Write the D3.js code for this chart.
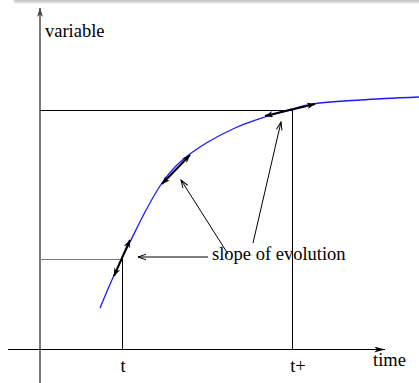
<!DOCTYPE html>
<html>
<head>
<meta charset="utf-8">
<script src="https://cdn.jsdelivr.net/npm/d3@7"></script>
<style>
  body { margin: 0; background: #fff; }
  text { font-family: "Liberation Serif", "Times New Roman", serif; fill: #000; }
</style>
</head>
<body>
<script>
const W = 419, H = 383;

// curve: [time, variable]
const curve = [
  [60, 41], [75, 76], [82, 91], [90, 107], [105, 137], [122, 166],
  [135, 182], [150, 195], [168, 207], [195, 221], [225, 232],
  [252, 240], [273, 245], [320, 249], [379, 252]
];
const instants = [82, 252];          // t, t+
const instantValues = [90, 239];
const instantLabels = ["t", "t+"];
// tangent (slope) arrows, double headed
const tangents = [
  [[74, 73], [90, 109]],
  [[122, 165], [150, 194]],
  [[225, 233], [275, 245]]
];
// pointer arrows from the label: [tail, tip]
const pointers = [
  [[168, 92], [98, 92]],
  [[188, 95], [141, 169]],
  [[213, 106], [241, 227]]
];

const x = d3.scaleLinear().domain([0, 379]).range([40, 419]);
const y = d3.scaleLinear().domain([0, 340]).range([349, 9]);

const svg = d3.select("body").append("svg")
  .attr("width", W)
  .attr("height", H);

const defs = svg.append("defs");

function stealth(id, color, len, half) {
  defs.append("marker")
    .attr("id", id)
    .attr("markerUnits", "userSpaceOnUse")
    .attr("viewBox", `${-len} ${-half} ${len + 1} ${2 * half}`)
    .attr("refX", 0).attr("refY", 0)
    .attr("markerWidth", len + 1).attr("markerHeight", 2 * half)
    .attr("orient", "auto-start-reverse")
    .append("path")
    .attr("d", `M0,0L${-len},${-half}L${-len * 0.7},0L${-len},${half}Z`)
    .attr("fill", color);
}
stealth("ax-y", "#444", 9, 3);
stealth("ax-x", "#000", 11, 3);
stealth("tan", "#000", 8, 3.2);

defs.append("marker")
  .attr("id", "open")
  .attr("markerUnits", "userSpaceOnUse")
  .attr("viewBox", "-10 -4 11 8")
  .attr("refX", 0).attr("refY", 0)
  .attr("markerWidth", 11).attr("markerHeight", 8)
  .attr("orient", "auto")
  .append("path")
  .attr("d", "M-8,-2.8L0,0L-8,2.8")
  .attr("fill", "none")
  .attr("stroke", "#000")
  .attr("stroke-width", 1);

// top shadow strip
defs.append("filter").attr("id", "blur")
  .append("feGaussianBlur").attr("stdDeviation", 1);
svg.append("rect")
  .attr("x", 14).attr("y", -3).attr("width", W).attr("height", 5.5)
  .attr("fill", "#c4c4c4")
  .attr("filter", "url(#blur)");

// axes
svg.append("line")
  .attr("x1", x(0)).attr("y1", H)
  .attr("x2", x(0)).attr("y2", y(341))
  .attr("stroke", "#7a7a7a").attr("stroke-width", 2)
  .attr("marker-end", "url(#ax-y)");

svg.append("line")
  .attr("x1", x(-32)).attr("y1", y(0) + 0.5)
  .attr("x2", x(345)).attr("y2", y(0) + 0.5)
  .attr("stroke", "#000").attr("stroke-width", 1)
  .attr("marker-end", "url(#ax-x)");

svg.append("text")
  .attr("x", x(5)).attr("y", 37)
  .attr("font-size", 18.5)
  .text("variable");

svg.append("text")
  .attr("x", x(333)).attr("y", 366)
  .attr("font-size", 18.5)
  .text("time");

// guide lines at t and t+
const guideColors = ["#7a7a7a", "#000"];
instants.forEach((t, i) => {
  svg.append("line")
    .attr("x1", x(0)).attr("y1", y(instantValues[i]) + 0.5)
    .attr("x2", x(t)).attr("y2", y(instantValues[i]) + 0.5)
    .attr("stroke", guideColors[i]).attr("stroke-width", 1)
    .attr("shape-rendering", "crispEdges");
  svg.append("line")
    .attr("x1", x(t) + 0.5).attr("y1", y(instantValues[i]))
    .attr("x2", x(t) + 0.5).attr("y2", y(0))
    .attr("stroke", "#000").attr("stroke-width", 1)
    .attr("shape-rendering", "crispEdges");
});

svg.selectAll(".tick-label").data(instantLabels)
  .enter().append("text")
  .attr("class", "tick-label")
  .attr("x", (d, i) => x(instants[i]) + (i === 0 ? 1 : 6))
  .attr("y", 372)
  .attr("font-size", 18.5)
  .style("text-anchor", "middle")
  .text((d) => d);

// evolution curve
svg.append("path")
  .datum(curve)
  .attr("d", d3.line().x((d) => x(d[0])).y((d) => y(d[1])).curve(d3.curveMonotoneX))
  .attr("fill", "none")
  .attr("stroke", "#1a1aff")
  .attr("stroke-width", 1.3);

// slope arrows
svg.selectAll(".tangent").data(tangents)
  .enter().append("line")
  .attr("class", "tangent")
  .attr("x1", (d) => x(d[0][0])).attr("y1", (d) => y(d[0][1]))
  .attr("x2", (d) => x(d[1][0])).attr("y2", (d) => y(d[1][1]))
  .attr("stroke", "#000").attr("stroke-width", 2)
  .attr("marker-start", "url(#tan)")
  .attr("marker-end", "url(#tan)");

// pointers from label
svg.selectAll(".pointer").data(pointers)
  .enter().append("line")
  .attr("class", "pointer")
  .attr("x1", (d) => x(d[0][0])).attr("y1", (d) => y(d[0][1]))
  .attr("x2", (d) => x(d[1][0])).attr("y2", (d) => y(d[1][1]))
  .attr("stroke", "#000").attr("stroke-width", 1)
  .attr("marker-end", "url(#open)");

svg.append("text")
  .attr("x", 212).attr("y", 260)
  .attr("font-size", 18.5)
  .text("slope of evolution");
</script>
</body>
</html>
